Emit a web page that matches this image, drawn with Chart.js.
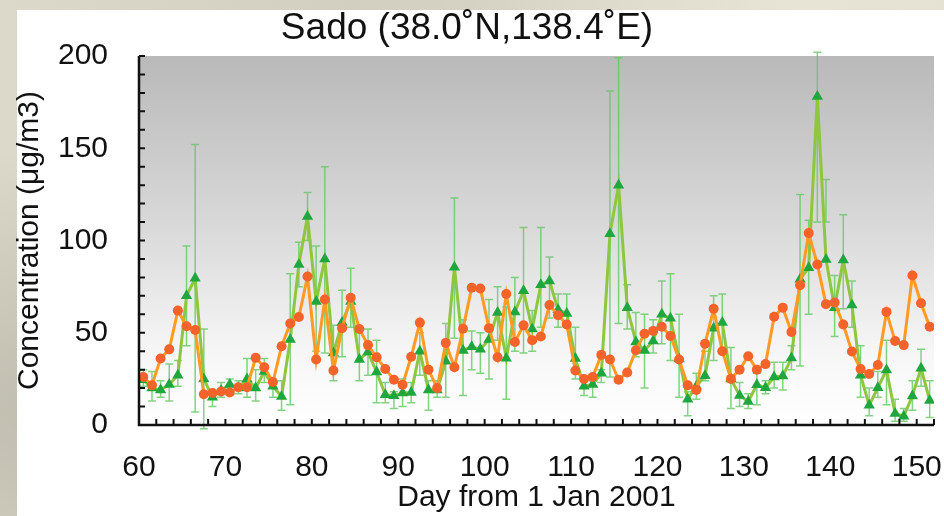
<!DOCTYPE html>
<html>
<head>
<meta charset="utf-8">
<script src="https://cdn.jsdelivr.net/npm/chart.js@4.4.1/dist/chart.umd.min.js"></script>
<style>
    html, body {
        margin: 0;
        padding: 0;
        width: 944px;
        height: 516px;
        overflow: hidden;
        background: #d8d5c6;
        background-image:
            radial-gradient(ellipse at 10% 80%, rgba(170, 168, 155, 0.6), rgba(0, 0, 0, 0) 45%),
            radial-gradient(ellipse at 85% 0%, rgba(235, 232, 218, 0.8), rgba(0, 0, 0, 0) 40%),
            linear-gradient(90deg, #dcd9ca, #cfccbd 50%, #dedbcd);
    }
    #panel {
        position: absolute;
        left: 17px;
        top: 10px;
        width: 927px;
        height: 506px;
        background: #ffffff;
    }
    #graficoPrincipal {
        position: absolute;
        left: 0;
        top: 0;
    }
</style>
</head>
<body>
<div id="panel"></div>
<canvas id="graficoPrincipal" width="944" height="516"></canvas>
<script>
"use strict";

// day 60.5 ... 151.5 (daily means plotted at mid-day)
const days = Array.from({ length: 92 }, (_, i) => 60.5 + i);

// orange circles
const model = [
    26, 21.5, 36, 41, 62, 53.5, 51.5, 16.7, 17.3, 18.2,
    17.6, 20.5, 20.5, 36.4, 31.3, 23.3, 42.7, 55, 58.5, 80.5,
    35.5, 68, 29.5, 52.5, 69, 52, 43.3, 36.7, 30.4, 24.5,
    21.8, 37, 55.5, 30, 20, 44.5, 31.3, 52.2, 74.4, 74,
    52.5, 36.7, 71, 45, 54, 46, 48, 65, 59.5, 54.5,
    29.5, 25, 26, 38, 35.5, 24.5, 28.5, 40.5, 49.5, 51,
    53.3, 48.2, 35.5, 21.5, 19, 44, 63, 40, 25, 30,
    37.3, 30, 33, 58.7, 63.6, 50.4, 75.8, 104, 87, 65.5,
    66.4, 54.5, 39.8, 30.4, 27.6, 32.5, 61.3, 45.5, 43.3, 81,
    66, 53.3
];

// green triangles
const obs = [
    24.5, 20, 19, 22, 27, 70, 79.5, 25, 15, 18.7,
    22, 20, 25, 20, 29, 21, 15.5, 46.4, 87, 113,
    67, 90, 39, 55.5, 67, 35.5, 39.5, 28.7, 16.4, 15.8,
    17.3, 17.6, 40, 19, 19, 34.5, 85.5, 40.4, 42.4, 41,
    46.4, 61, 36.2, 61.3, 72.7, 52, 76, 78, 62.4, 60.5,
    36, 21, 22, 28, 103.6, 130, 63.6, 45, 40.4, 45.5,
    60, 57.8, 35.8, 14, 21, 26.7, 52.5, 55.5, 25, 16,
    12.7, 21.8, 20.2, 26, 26.5, 36.3, 79, 85.2, 178, 89.7,
    63.5, 89.4, 65, 27, 10.7, 20.2, 29.8, 6.2, 4.8, 15.7,
    30.8, 13.3
];

// error bar ends of the green series
const obsHigh = [
    30, 29, 24, 33, 35, 97, 152, 52, 18, 23,
    25, 24, 36, 30, 36, 24, 24, 82, 99, 126,
    97, 140, 54, 73, 85, 52, 52, 46, 23, 18,
    25, 23, 50, 24, 24, 55, 123, 57, 51, 50,
    68, 75, 64, 80, 107, 62, 107, 91, 71, 71,
    53, 25, 24, 30, 181, 199, 76, 61, 60, 57,
    78, 82, 60, 18, 28, 40, 70, 71, 42, 23,
    17, 28, 24, 34, 34, 43, 125, 111, 202, 133,
    81, 114, 78, 43, 20, 29, 46, 14, 9, 24,
    41, 24
];

const obsLow = [
    21, 13, 15, 13, 21, 43, 7, -2, 10, 15,
    18, 17, 15, 13, 23, 15, 8, 11, 75, 100,
    40, 39, 24, 37, 53, 24, 27, 12, 12, 9,
    10, 12, 27, 8, 15, 15, 47, 16, 30, 28,
    25, 46, 14, 40, 39, 40, 53, 58, 53, 53,
    25, 16, 15, 23, 26, 55, 52, 37, 20, 39,
    44, 35, 15, 5, 14, 24, 35, 39, 9, 10,
    9, 11, 17, 20, 19, 30, 32, 60, 110, 110,
    48, 63, 53, 15, 5, 15, 11, 2, 2, 8,
    21, 4
];

const xTicks = [60, 70, 80, 90, 100, 110, 120, 130, 140, 150];
const yTicks = [0, 50, 100, 150, 200];

const FONT = "'Liberation Sans', Arial, Helvetica, sans-serif";

const fondo = {
    id: "fondo",
    beforeDatasetsDraw(chart) {
        const { ctx, chartArea: a } = chart;
        const g = ctx.createLinearGradient(0, a.top, 0, a.bottom);
        g.addColorStop(0, "#b9b9b9");
        g.addColorStop(0.45, "#d8d8d8");
        g.addColorStop(0.8, "#f6f6f6");
        g.addColorStop(1, "#ffffff");
        ctx.save();
        ctx.fillStyle = g;
        ctx.fillRect(a.left, a.top, a.right - a.left, a.bottom - a.top);

        // error bars
        const xs = chart.scales.x;
        const ys = chart.scales.y;
        ctx.strokeStyle = "rgba(100, 200, 100, 0.8)";
        ctx.lineWidth = 1.5;
        for (let i = 0; i < days.length; i++) {
            const x = xs.getPixelForValue(days[i]);
            const y1 = ys.getPixelForValue(obsHigh[i]);
            const y2 = ys.getPixelForValue(obsLow[i]);
            ctx.beginPath();
            ctx.moveTo(x, y1);
            ctx.lineTo(x, y2);
            ctx.moveTo(x - 4, y1);
            ctx.lineTo(x + 4, y1);
            ctx.moveTo(x - 4, y2);
            ctx.lineTo(x + 4, y2);
            ctx.stroke();
        }
        ctx.restore();
    }
};

const ejes = {
    id: "ejes",
    afterDatasetsDraw(chart) {
        const { ctx, chartArea: a } = chart;
        const xs = chart.scales.x;
        const ys = chart.scales.y;
        ctx.save();
        ctx.strokeStyle = "#111";
        ctx.lineWidth = 2;
        ctx.beginPath();
        // inward minor ticks
        for (let d = 60; d <= 152; d += 2) {
            const x = xs.getPixelForValue(d);
            ctx.moveTo(x, a.bottom);
            ctx.lineTo(x, a.bottom - 6);
        }
        for (let v = 0; v <= 200; v += 10) {
            const y = ys.getPixelForValue(v);
            ctx.moveTo(a.left, y);
            ctx.lineTo(a.left + 6, y);
        }
        ctx.stroke();
        ctx.lineWidth = 2.5;
        ctx.beginPath();
        ctx.moveTo(a.left, a.top);
        ctx.lineTo(a.left, a.bottom);
        ctx.lineTo(a.right, a.bottom);
        ctx.stroke();
        ctx.restore();
    }
};

const canvas = document.getElementById("graficoPrincipal");

new Chart(canvas, {
    type: "line",
    data: {
        datasets: [
            {
                label: "Model",
                data: days.map((d, i) => ({ x: d, y: model[i] })),
                borderColor: "#ff9a24",
                borderWidth: 3,
                pointStyle: "circle",
                pointRadius: 5,
                pointBackgroundColor: "#f4632a",
                pointBorderWidth: 0,
                tension: 0,
                order: 0
            },
            {
                label: "Observation",
                data: days.map((d, i) => ({ x: d, y: obs[i] })),
                borderColor: "#8ec63f",
                borderWidth: 3,
                pointStyle: "triangle",
                pointRadius: 6.5,
                pointBackgroundColor: "#20a63e",
                pointBorderWidth: 0,
                tension: 0,
                order: 1
            }
        ]
    },
    options: {
        responsive: false,
        animation: false,
        devicePixelRatio: 1,
        layout: {
            padding: { left: 0, right: 10, top: 0, bottom: 0 }
        },
        plugins: {
            legend: { display: false },
            tooltip: { enabled: false },
            title: {
                display: true,
                text: "Sado (38.0˚N,138.4˚E)",
                color: "#111",
                font: { family: FONT, size: 37, weight: "normal", lineHeight: 1.2 },
                padding: { top: 7, bottom: 4.6 }
            }
        },
        scales: {
            x: {
                type: "linear",
                min: 60,
                max: 152,
                grid: { display: false, drawTicks: false },
                border: { display: false },
                afterBuildTicks(scale) {
                    scale.ticks = xTicks.map(v => ({ value: v }));
                },
                afterFit(scale) {
                    scale.height = 91;
                    scale.paddingLeft = 0;
                    scale.paddingRight = 0;
                },
                ticks: {
                    color: "#111",
                    font: { family: FONT, size: 30, lineHeight: 1.2 },
                    padding: 25,
                    maxRotation: 0,
                    autoSkip: false
                },
                title: {
                    display: true,
                    text: "Day from 1 Jan 2001",
                    color: "#111",
                    font: { family: FONT, size: 30, lineHeight: 1.2 },
                    padding: { top: 0, bottom: 0 }
                }
            },
            y: {
                min: 0,
                max: 200,
                grid: { display: false, drawTicks: false },
                border: { display: false },
                afterBuildTicks(scale) {
                    scale.ticks = yTicks.map(v => ({ value: v }));
                },
                afterFit(scale) {
                    scale.width = 139;
                    scale.paddingTop = 0;
                    scale.paddingBottom = 0;
                },
                ticks: {
                    color: "#111",
                    font: { family: FONT, size: 30, lineHeight: 1.2 },
                    padding: 31
                },
                title: {
                    display: true,
                    text: "Concentration (μg/m3)",
                    color: "#111",
                    font: { family: FONT, size: 30, lineHeight: 1.2 },
                    padding: { top: 12, bottom: 0 }
                }
            }
        }
    },
    plugins: [fondo, ejes]
});
</script>
</body>
</html>
